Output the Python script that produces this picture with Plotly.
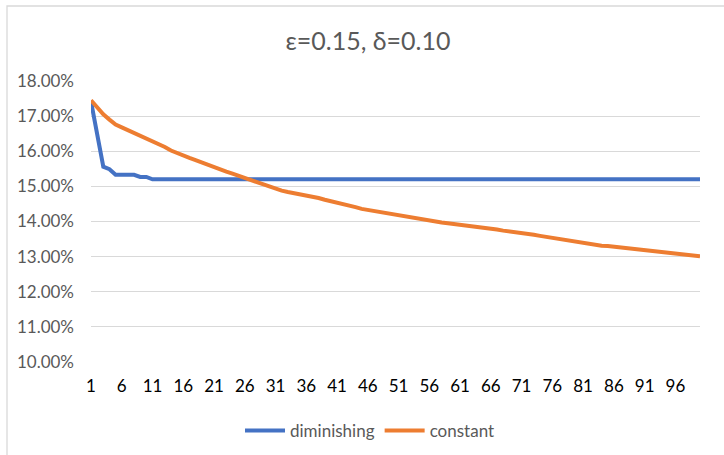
import plotly.graph_objects as go

# Iteration index (1..100)
steps = list(range(1, 101))

# Rate per iteration with a diminishing step size
diminishing = [
    17.42, 16.50, 15.56, 15.49, 15.33, 15.33, 15.33, 15.33, 15.27, 15.27,
    15.20, 15.20, 15.20, 15.20, 15.20, 15.20, 15.20, 15.20, 15.20, 15.20,
    15.20, 15.20, 15.20, 15.20, 15.20, 15.20, 15.20, 15.20, 15.20, 15.20,
    15.20, 15.20, 15.20, 15.20, 15.20, 15.20, 15.20, 15.20, 15.20, 15.20,
    15.20, 15.20, 15.20, 15.20, 15.20, 15.20, 15.20, 15.20, 15.20, 15.20,
    15.20, 15.20, 15.20, 15.20, 15.20, 15.20, 15.20, 15.20, 15.20, 15.20,
    15.20, 15.20, 15.20, 15.20, 15.20, 15.20, 15.20, 15.20, 15.20, 15.20,
    15.20, 15.20, 15.20, 15.20, 15.20, 15.20, 15.20, 15.20, 15.20, 15.20,
    15.20, 15.20, 15.20, 15.20, 15.20, 15.20, 15.20, 15.20, 15.20, 15.20,
    15.20, 15.20, 15.20, 15.20, 15.20, 15.20, 15.20, 15.20, 15.20, 15.20,
]

# Rate per iteration with a constant step size
constant = [
    17.45, 17.25, 17.05, 16.90, 16.76, 16.68, 16.60, 16.52, 16.44, 16.38,
    16.28, 16.20, 16.12, 16.02, 15.94, 15.87, 15.81, 15.75, 15.68, 15.60,
    15.53, 15.47, 15.42, 15.36, 15.30, 15.22, 15.15, 15.10, 15.05, 14.99,
    14.93, 14.88, 14.84, 14.81, 14.77, 14.74, 14.71, 14.67, 14.62, 14.58,
    14.55, 14.50, 14.45, 14.41, 14.36, 14.33, 14.29, 14.25, 14.23, 14.20,
    14.16, 14.13, 14.10, 14.08, 14.05, 14.02, 13.99, 13.97, 13.95, 13.93,
    13.90, 13.87, 13.85, 13.83, 13.81, 13.80, 13.77, 13.74, 13.72, 13.70,
    13.67, 13.64, 13.62, 13.59, 13.56, 13.54, 13.51, 13.48, 13.46, 13.43,
    13.40, 13.37, 13.33, 13.31, 13.30, 13.28, 13.27, 13.25, 13.23, 13.21,
    13.19, 13.17, 13.15, 13.12, 13.10, 13.09, 13.07, 13.05, 13.03, 13.01,
]

x_ticks = list(range(1, 100, 5))
title_text = "ε=0.15, δ=0.10"

W, H = 724, 455
ML, MR, MT, MB = 91, 24, 81, 93
FONT = "Lato, Open Sans, sans-serif"

pw, ph = W - ML - MR, H - MT - MB

fig = go.Figure()
fig.add_trace(go.Scatter(
    x=steps, y=[v / 100 for v in diminishing], name="diminishing",
    mode="lines", line=dict(color="#4472C4", width=4),
))
fig.add_trace(go.Scatter(
    x=steps, y=[v / 100 for v in constant], name="constant",
    mode="lines", line=dict(color="#ED7D31", width=4),
))

# Light chart-area frame (top and left edges visible)
fig.add_shape(
    type="rect", xref="paper", yref="paper",
    x0=(7 - ML) / pw, x1=(W + 10 - ML) / pw,
    y0=-(H + 10 - MT - ph) / ph, y1=1 + (MT - 6) / ph,
    line=dict(color="#D9D9D9", width=1.3), layer="below",
)

fig.update_layout(
    width=W, height=H,
    margin=dict(l=ML, r=MR, t=MT, b=MB, autoexpand=False),
    paper_bgcolor="white", plot_bgcolor="white",
    font=dict(family=FONT),
    title=dict(
        text=title_text, x=368 / W, xanchor="center", y=1 - 41 / H, yanchor="middle",
        font=dict(size=25, color="#595959", family=FONT),
    ),
    showlegend=True,
    legend=dict(
        orientation="h", x=(370 - ML) / pw, xanchor="center",
        y=-(431 - MT - ph) / ph, yanchor="middle",
        font=dict(size=17, color="#595959"),
        itemwidth=40, bgcolor="rgba(0,0,0,0)",
    ),
    xaxis=dict(
        range=[1, 100], tickmode="array", tickvals=x_ticks,
        ticktext=[str(t) for t in x_ticks], showgrid=False, zeroline=False,
        showline=False, ticks="", ticklabelstandoff=12, automargin=False,
        tickfont=dict(size=17, color="#000000"),
    ),
    yaxis=dict(
        range=[0.10, 0.18], dtick=0.01, tick0=0.10, tickformat=".2%",
        showgrid=True, gridcolor="#D9D9D9", gridwidth=1, zeroline=False,
        showline=False, ticks="", ticklabelstandoff=16, automargin=False,
        tickfont=dict(size=17, color="#595959"),
    ),
)

fig.write_html("out.html")
